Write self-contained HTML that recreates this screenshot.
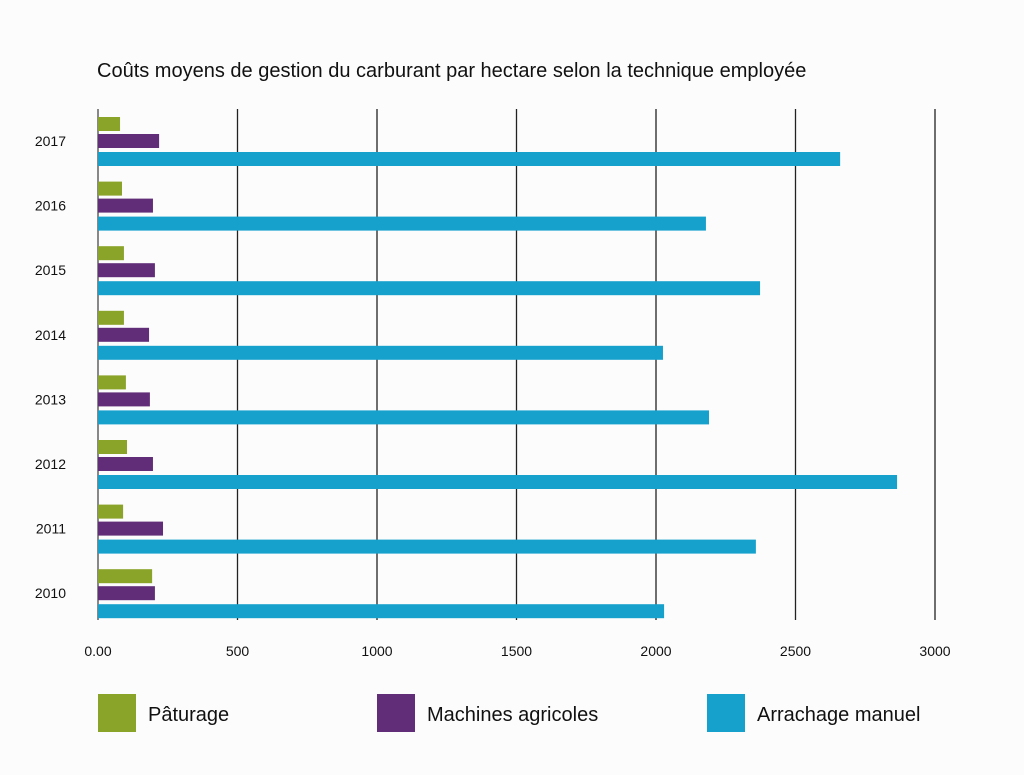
<!DOCTYPE html>
<html><head><meta charset="utf-8"><style>
body{margin:0;background:#fcfcfc;font-family:"Liberation Sans",sans-serif;}
</style></head><body>
<svg width="1024" height="770" xmlns="http://www.w3.org/2000/svg" id="chart">
<rect width="1024" height="770" fill="#fcfcfc"/>
<text x="97" y="77" font-size="20" fill="#111">Coûts moyens de gestion du carburant par hectare selon la technique employée</text>
<g id="grid"></g><g id="bars"></g><g id="labels"></g>
<g>
<rect x="98" y="694" width="38" height="38" fill="#8aa329"/>
<text x="148" y="721" font-size="20" fill="#111">Pâturage</text>
<rect x="377" y="694" width="38" height="38" fill="#622d78"/>
<text x="427" y="721" font-size="20" fill="#111">Machines agricoles</text>
<rect x="707" y="694" width="38" height="38" fill="#16a1cd"/>
<text x="757" y="721" font-size="20" fill="#111">Arrachage manuel</text>
</g>
</svg>
<script>
const years=["2017","2016","2015","2014","2013","2012","2011","2010"];
const paturage=[79,86,93,93,100,104,90,194];
const machines=[219,197,204,183,186,197,233,204];
const arrachage=[2660,2179,2373,2025,2190,2864,2358,2029];
const ticks=[0,500,1000,1500,2000,2500,3000];
const tickLabels=["0.00","500","1000","1500","2000","2500","3000"];
const NS="http://www.w3.org/2000/svg";
const x0=98,x1=935,maxV=3000,top0=109,bottom=620;
function xs(v){return x0+v*(x1-x0)/maxV;}
function rowY(i){return 117+i*64.6;}
function mk(t,a,p){const e=document.createElementNS(NS,t);for(const k in a)e.setAttribute(k,a[k]);p.appendChild(e);return e;}
const grid=document.getElementById('grid'),bars=document.getElementById('bars'),labels=document.getElementById('labels');
ticks.forEach((t,i)=>{
 const l=mk('line',{x1:xs(t),x2:xs(t),y1:top0,y2:bottom,stroke:i==0?'#888':'#222','stroke-width':i==0?2:1.3},grid);
 
 
 const tx=mk('text',{x:xs(t),y:656,'font-size':14,'text-anchor':'middle',fill:'#111'},labels);
 tx.textContent=tickLabels[i];
 
 
});
const series=[[paturage,'#8aa329','paturage',0],[machines,'#622d78','machines',17],[arrachage,'#16a1cd','arrachage',35]];
years.forEach((y,i)=>{
 const yy=rowY(i);
 series.forEach(s=>{
  const r=mk('rect',{x:x0,y:yy+s[3],width:xs(s[0][i])-x0,height:14,fill:s[1]},bars);
  
  
 });
 const t=mk('text',{x:66,y:yy+29,'font-size':14,'text-anchor':'end',fill:'#111'},labels);
 t.textContent=y;
 
 
});
</script>
</body></html>
